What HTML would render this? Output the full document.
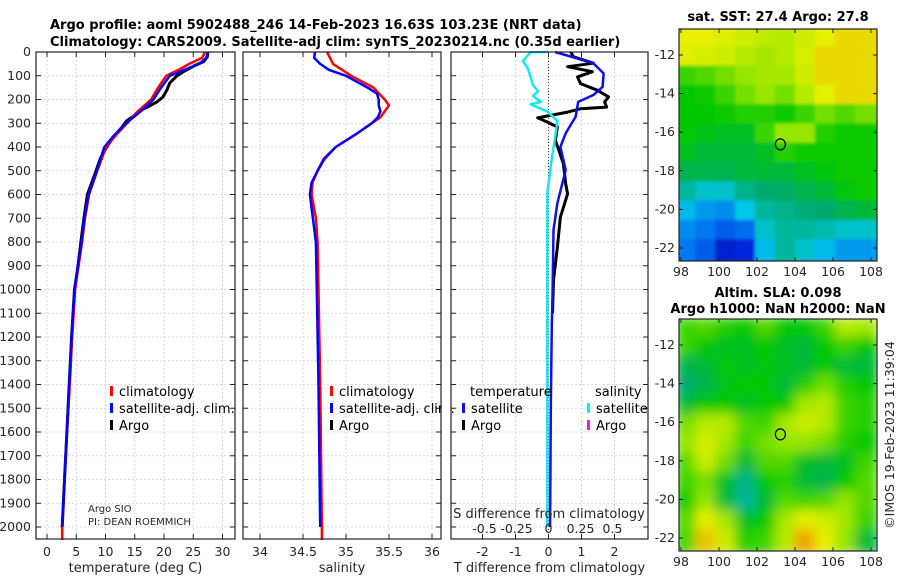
<!DOCTYPE html>
<html><head><meta charset="utf-8">
<style>
html,body{margin:0;padding:0;background:#fff;}
svg{display:block;font-family:"DejaVu Sans","Liberation Sans",sans-serif;}
.tk{font-size:12.5px;fill:#262626;}
.tt{font-size:13px;font-weight:bold;fill:#000;}
.lg{font-size:13px;fill:#000;}
</style></head>
<body>
<svg id="fig" width="900" height="580" viewBox="0 0 900 580" xmlns="http://www.w3.org/2000/svg">
<text class="tt" x="50" y="29">Argo profile: aoml 5902488_246 14-Feb-2023 16.63S 103.23E (NRT data)</text>
<text class="tt" x="50" y="46">Climatology: CARS2009. Satellite-adj clim: synTS_20230214.nc (0.35d earlier)</text>
<g id="plots"></g>
</svg>
<script>
// ---------- data ----------
const tDepthClim = [0,25,50,75,100,150,200,250,300,350,400,500,600,700,800,900,1000,1200,1400,1600,1800,2000,2055];
const tempClim = [27.0,26.5,24.3,22.5,20.4,19.0,17.8,15.5,13.7,11.8,10.1,8.6,7.2,6.5,6.0,5.4,4.8,4.3,3.9,3.4,3.0,2.6,2.6];
const tDepthSat = [0,25,50,75,100,150,200,250,300,350,400,500,600,700,800,900,1000,1200,1400,1600,1800,2000];
const tempSat = [27.5,27.2,26.0,23.5,21.0,19.5,18.2,16.0,13.5,11.5,9.8,8.5,7.1,6.4,5.9,5.3,4.7,4.2,3.8,3.4,3.0,2.6];
const tDepthArgo = [0,20,40,60,80,100,130,160,190,210,230,250,270,290,320,350,400,450,500,600,700,800,900,1000,1200,1400,1600,1800,2000];
const tempArgo = [27.5,27.4,26.8,25.0,23.5,22.2,21.0,20.5,19.8,18.8,17.3,15.6,14.8,13.6,12.7,11.6,10.2,9.1,8.4,6.9,6.3,5.8,5.3,4.7,4.2,3.8,3.4,3.0,2.6];
const sDepthClim = [0,50,100,150,200,225,275,350,400,450,500,550,600,700,800,1000,1400,2000,2055];
const salClim = [34.78,34.85,35.06,35.32,35.45,35.5,35.4,35.1,34.88,34.74,34.67,34.61,34.6,34.65,34.67,34.68,34.7,34.72,34.72];
const sDepthSat = [0,25,50,75,100,150,175,200,225,250,275,300,350,400,450,500,550,600,800,1000,1400,2000];
const salSat = [34.64,34.63,34.7,34.8,35.0,35.25,35.36,35.38,35.38,35.4,35.37,35.3,35.1,34.88,34.75,34.67,34.6,34.58,34.65,34.66,34.68,34.7];
const dDepthT = [0,47,90,147,181,210,273,342,400,497,636,750,1030,1150,1500,2000];
const dTsat = [0.2,1.36,1.67,1.64,1.36,0.9,0.82,0.52,0.36,0.52,0.27,0.15,0.12,0.1,0.07,0.05];
const dDepthS = [0,1,38,70,140,165,185,210,220,250,290,365,470,600,900,1500,2000];
const dSsat = [0,-0.14,-0.2,-0.16,-0.12,-0.08,-0.12,-0.06,-0.14,-0.01,0.07,0.05,0.02,-0.01,-0.01,-0.01,-0.01];
const dDepthArgo = [0,20,47,62,83,105,133,161,189,210,232,239,253,267,277,295,316,372,470,555,597,695,821,961,1100];
const dTargo = [0.67,0.76,1.36,0.58,1.33,0.88,0.97,1.48,1.82,1.7,1.76,0.97,0.58,0.06,-0.33,-0.03,0.27,0.21,0.45,0.52,0.58,0.36,0.27,0.15,0.12];
const depthTicks = [0,100,200,300,400,500,600,700,800,900,1000,1100,1200,1300,1400,1500,1600,1700,1800,1900,2000];
const tempTicks = [0,5,10,15,20,25,30];
const salTicks = [34,34.5,35,35.5,36];
const salTickLabels = ["34","34.5","35","35.5","36"];
const dTTicks = [-2,-1,0,1,2];
const dSTicks = [-0.5,-0.25,0,0.25,0.5];
const dSTickLabels = ["-0.5","-0.25","0","0.25","0.5"];
const latTicks = [-12,-14,-16,-18,-20,-22];
const lonTicks = [98,100,102,104,106,108];
const sstGrid = [
[.88,.88,.87,.85,.83,.82,.85,.88,.9,.9],
[.87,.86,.85,.82,.8,.82,.86,.9,.9,.9],
[.7,.72,.75,.78,.8,.8,.85,.9,.9,.9],
[.65,.66,.7,.75,.78,.75,.82,.88,.9,.9],
[.65,.65,.66,.68,.68,.66,.7,.75,.72,.75],
[.65,.63,.62,.62,.7,.78,.78,.68,.66,.66],
[.62,.6,.6,.6,.62,.68,.66,.66,.66,.66],
[.58,.58,.58,.6,.6,.6,.62,.64,.66,.66],
[.5,.45,.45,.52,.55,.56,.58,.6,.64,.66],
[.4,.35,.33,.42,.5,.52,.54,.55,.58,.6],
[.33,.3,.25,.28,.45,.5,.5,.48,.45,.45],
[.3,.25,.12,.15,.4,.5,.45,.4,.35,.35]];
const slaGrid = [
[.7,.72,.68,.65,.72,.65,.65,.7,.82,.8],
[.7,.65,.62,.62,.65,.62,.6,.65,.7,.65],
[.58,.6,.65,.62,.64,.62,.6,.65,.6,.6],
[.55,.58,.63,.65,.65,.6,.68,.75,.68,.65],
[.6,.65,.65,.62,.65,.65,.8,.82,.7,.68],
[.75,.82,.82,.72,.7,.8,.85,.82,.7,.68],
[.78,.86,.8,.7,.75,.78,.78,.75,.68,.65],
[.72,.85,.75,.6,.72,.72,.62,.6,.62,.7],
[.7,.75,.62,.52,.65,.68,.6,.58,.65,.72],
[.65,.78,.6,.5,.6,.72,.7,.72,.78,.72],
[.72,.88,.8,.62,.65,.8,.88,.85,.8,.7],
[.7,.92,.85,.68,.7,.82,.95,.88,.78,.6]];
const floatLon = 103.23, floatLat = -16.63;

// ---------- helpers ----------
const NS="http://www.w3.org/2000/svg";
const root=document.getElementById('plots');
function mk(tag,attrs,parent){const e=document.createElementNS(NS,tag);for(const k in attrs)e.setAttribute(k,attrs[k]);(parent||root).appendChild(e);return e;}
const top0=52, bot0=539;
const yD = d => top0 + d*0.2375;
function lin(d0,d1,r0,r1){return v=>r0+(v-d0)/(d1-d0)*(r1-r0);}

function panel(name,x0,x1,xs,xticks,xlabels,xtitle){
  const g=mk('g',{});
  
  
  depthTicks.forEach(d=>{mk('line',{x1:x0,x2:x1,y1:yD(d),y2:yD(d),stroke:'#c9cbef','stroke-width':0.8,'stroke-dasharray':'2,2'},g);});
  xticks.forEach(v=>{mk('line',{x1:xs(v),x2:xs(v),y1:top0,y2:bot0,stroke:'#c9cbef','stroke-width':0.8,'stroke-dasharray':'2,2'},g);});
  depthTicks.forEach(d=>{mk('line',{x1:x0,x2:x0+5,y1:yD(d),y2:yD(d),stroke:'#222'},g);mk('line',{x1:x1-5,x2:x1,y1:yD(d),y2:yD(d),stroke:'#222'},g);});
  xticks.forEach((v,i)=>{mk('line',{x1:xs(v),x2:xs(v),y1:top0,y2:top0+5,stroke:'#222'},g);mk('line',{x1:xs(v),x2:xs(v),y1:bot0-5,y2:bot0,stroke:'#222'},g);
    if(xlabels){const t=mk('text',{x:xs(v),y:556,'text-anchor':'middle',class:'tk'},g);t.textContent=xlabels[i];
    
    }});
  if(xtitle){const t=mk('text',{x:(x0+x1)/2,y:572,'text-anchor':'middle',class:'tk',style:'font-size:13px'},g);t.textContent=xtitle;
    
    }
  return g;
}
function line(g,xs,vals,depths,color,w,name){
  const pts=vals.map((v,i)=>xs(v).toFixed(1)+','+yD(depths[i]).toFixed(1)).join(' ');
  const p=mk('polyline',{points:pts,fill:'none',stroke:color,'stroke-width':w,'stroke-linejoin':'round'},g);
  
  
}
function frame(g,x0,x1){mk('rect',{x:x0,y:top0,width:x1-x0,height:bot0-top0,fill:'none',stroke:'#222','stroke-width':1.2},g);}
function legItem(g,x,y,color,label){mk('rect',{x:x,y:y-10,width:3,height:10,fill:color},g);const t=mk('text',{x:x+9,y:y,class:'lg'},g);t.textContent=label;
  
  }

// temperature panel
const xT=lin(0,30,47,222.5);
const g1=panel('temperature-panel',36,235,xT,tempTicks,tempTicks.map(String),'temperature (deg C)');
depthTicks.forEach(d=>{const t=mk('text',{x:31,y:yD(d)+4,'text-anchor':'end',class:'tk'},g1);t.textContent=String(d);
  
  });
line(g1,xT,tempArgo,tDepthArgo,'#000',3,'temp-argo-line');
line(g1,xT,tempClim,tDepthClim,'#f00',2.5,'temp-climatology-line');
line(g1,xT,tempSat,tDepthSat,'#00f',2.5,'temp-satellite-line');
frame(g1,36,235);
legItem(g1,110,396,'#f00','climatology');legItem(g1,110,413,'#00f','satellite-adj. clim.');legItem(g1,110,430,'#000','Argo');
let t=mk('text',{x:88,y:512,class:'tk',style:'font-size:10px'},g1);t.textContent='Argo SIO';
t=mk('text',{x:88,y:525,class:'tk',style:'font-size:10px'},g1);t.textContent='PI: DEAN ROEMMICH';

// salinity panel
const xS=lin(34,36,260,432);
const g2=panel('salinity-panel',243,441,xS,salTicks,salTickLabels,'salinity');
line(g2,xS,salClim,sDepthClim,'#f00',2.5,'sal-climatology-line');
line(g2,xS,salSat,sDepthSat,'#00f',2.5,'sal-satellite-line');
frame(g2,243,441);
legItem(g2,330,396,'#f00','climatology');legItem(g2,330,413,'#00f','satellite-adj. clim.');legItem(g2,330,430,'#000','Argo');
mk('rect',{x:442,y:380,width:8,height:60,fill:'#fff'},g2);

// difference panel
const xdT=lin(0,1,548.5,581.5);
const xdS=lin(0,1,548.5,676.5);
const g3=panel('difference-panel',451,648,xdT,dTTicks,dTTicks.map(String),'T difference from climatology');
mk('line',{x1:xdT(0),x2:xdT(0),y1:top0,y2:bot0,stroke:'#444','stroke-width':1,'stroke-dasharray':'1,2'},g3);
line(g3,xdT,dTargo,dDepthArgo,'#000',3,'dT-argo-line');
line(g3,xdS,dSsat,dDepthS,'#18e6f0',2.5,'dS-satellite-line');
line(g3,xdT,dTsat,dDepthT,'#1010e6',2.5,'dT-satellite-line');
frame(g3,451,648);
t=mk('text',{x:470,y:396,class:'lg'},g3);t.textContent='temperature';
t=mk('text',{x:595,y:396,class:'lg'},g3);t.textContent='salinity';
legItem(g3,462,413,'#1010e6','satellite');legItem(g3,462,430,'#000','Argo');
legItem(g3,587,413,'#18e6f0','satellite');legItem(g3,587,430,'#e020e0','Argo');
t=mk('text',{x:549,y:518,'text-anchor':'middle',class:'tk',style:'font-size:13px'},g3);t.textContent='S difference from climatology';


dSTicks.forEach((v,i)=>{const e=mk('text',{x:xdS(v),y:533,'text-anchor':'middle',class:'tk'},g3);e.textContent=dSTickLabels[i];
  
  });

// ---------- maps ----------
function cmap(v){
  const stops=[[0,[0,0,140]],[0.15,[0,40,220]],[0.3,[0,120,240]],[0.42,[0,200,230]],[0.55,[0,170,110]],[0.65,[0,200,0]],[0.78,[150,230,0]],[0.88,[230,240,0]],[0.95,[240,160,0]],[1,[230,100,0]]];
  for(let i=1;i<stops.length;i++){if(v<=stops[i][0]){const a=stops[i-1],b=stops[i];const f=(v-a[0])/(b[0]-a[0]);
    return 'rgb('+a[1].map((c,k)=>Math.round(c+(b[1][k]-c)*f)).join(',')+')';}}
  return 'rgb(230,100,0)';
}
function map(name,id,top,bottom,grid,title1,title2,blur){
  const g=mk('g',{});
  
  
  const x0=679,x1=877;
  const lon=lin(98,108,681,871);
  const lat=lin(-12,-22,top+26,top+26+193);
  const defs=mk('defs',{},g);
  const cp=mk('clipPath',{id:'cp'+id},defs);mk('rect',{x:x0,y:top,width:x1-x0,height:bottom-top},cp);
  const f=mk('filter',{id:'f'+id,x:'-10%',y:'-10%',width:'120%',height:'120%'},defs);mk('feGaussianBlur',{stdDeviation:blur},f);
  const cg=mk('g',{'clip-path':'url(#cp'+id+')'},g);
  const ig=mk('g',{filter:'url(#f'+id+')'},cg);
  grid.forEach((row,r)=>row.forEach((v,c)=>{
    const cell=mk('rect',{x:lon(97.8+c*1.05)-2,y:lat(-10.7-r)-3,width:lon(99.05)-lon(98)+4,height:lat(-12)-lat(-11)+6,fill:cmap(v)},ig);
    
    
  }));
  mk('ellipse',{cx:lon(floatLon),cy:lat(floatLat),rx:5,ry:5.5,fill:'none',stroke:'#000','stroke-width':1.2},g);
  mk('rect',{x:x0,y:top,width:x1-x0,height:bottom-top,fill:'none',stroke:'#222','stroke-width':1.2},g);
  latTicks.forEach(v=>{mk('line',{x1:x0,x2:x0+4,y1:lat(v),y2:lat(v),stroke:'#222'},g);mk('line',{x1:x1-4,x2:x1,y1:lat(v),y2:lat(v),stroke:'#222'},g);
    const e=mk('text',{x:675,y:lat(v)+4,'text-anchor':'end',class:'tk'},g);e.textContent=String(v);
    
    });
  lonTicks.forEach(v=>{mk('line',{x1:lon(v),x2:lon(v),y1:bottom-4,y2:bottom,stroke:'#222'},g);mk('line',{x1:lon(v),x2:lon(v),y1:top,y2:top+4,stroke:'#222'},g);
    const e=mk('text',{x:lon(v),y:bottom+15,'text-anchor':'middle',class:'tk'},g);e.textContent=String(v);
    
    });
  let e=mk('text',{x:(x0+x1)/2,y:top-(title2?22:8),'text-anchor':'middle',class:'tt'},g);e.textContent=title1;
  if(title2){e=mk('text',{x:(x0+x1)/2,y:top-6,'text-anchor':'middle',class:'tt'},g);e.textContent=title2;}
}
map('sst-map','a',29,261,sstGrid,'sat. SST: 27.4 Argo: 27.8',null,1.5);
map('sla-map','b',319,551,slaGrid,'Altim. SLA: 0.098','Argo h1000: NaN h2000: NaN',6);
t=mk('text',{x:894,y:435,'text-anchor':'middle',class:'tk',transform:'rotate(-90 894 435)'});
t.textContent='©IMOS 19-Feb-2023 11:39:04';


</script>
</body></html>
